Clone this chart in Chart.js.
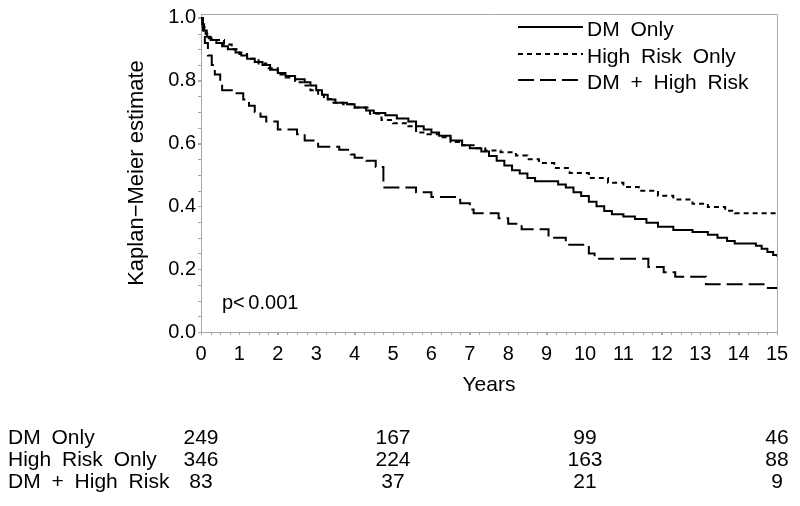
<!DOCTYPE html>
<html>
<head>
<meta charset="utf-8">
<script src="https://cdn.jsdelivr.net/npm/chart.js@4.4.1/dist/chart.umd.min.js"></script>
<style>
  html, body { margin: 0; padding: 0; background: #fff; }
  #wrap { width: 800px; height: 506px; }
</style>
</head>
<body>
<div id="wrap"><canvas id="km" width="800" height="506"></canvas></div>
<script>
// step times (years) and survival after each drop
const seriesNames = ["DM Only", "High Risk Only", "DM + High Risk"];

const dmOnlyTimes = [0, 0.03, 0.08, 0.15, 0.25, 0.4, 0.55, 0.7, 0.9, 1.05, 1.2, 1.4, 1.6, 1.8, 2.0, 2.2, 2.45, 2.7, 2.85, 3.0, 3.15, 3.3, 3.5, 3.8, 4.0, 4.3, 4.5, 4.8, 5.1, 5.4, 5.6, 5.8, 6.0, 6.2, 6.5, 6.8, 7.0, 7.3, 7.5, 7.7, 7.9, 8.1, 8.3, 8.5, 8.7, 9.3, 9.5, 9.7, 9.9, 10.1, 10.3, 10.5, 10.7, 11.0, 11.3, 11.6, 11.9, 12.3, 12.8, 13.2, 13.45, 13.7, 13.9, 14.45, 14.6, 14.75, 14.9, 15];
const dmOnlySurv = [1.0, 0.98, 0.96, 0.94, 0.93, 0.92, 0.91, 0.90, 0.89, 0.88, 0.87, 0.86, 0.85, 0.835, 0.825, 0.815, 0.805, 0.795, 0.785, 0.77, 0.755, 0.74, 0.73, 0.725, 0.715, 0.705, 0.697, 0.69, 0.68, 0.67, 0.655, 0.645, 0.635, 0.625, 0.61, 0.595, 0.585, 0.575, 0.56, 0.545, 0.53, 0.515, 0.505, 0.49, 0.48, 0.47, 0.46, 0.445, 0.433, 0.415, 0.40, 0.385, 0.375, 0.368, 0.36, 0.348, 0.335, 0.325, 0.318, 0.31, 0.30, 0.29, 0.282, 0.275, 0.265, 0.255, 0.245, 0.24];

const highRiskTimes = [0, 0.05, 0.12, 0.2, 0.35, 0.6, 0.8, 1.0, 1.2, 1.5, 1.7, 2.0, 2.2, 2.45, 2.65, 2.85, 3.05, 3.2, 3.45, 3.7, 4.0, 4.4, 4.7, 5.0, 5.4, 5.6, 5.9, 6.2, 6.5, 6.8, 7.1, 7.4, 7.8, 8.2, 8.5, 8.8, 9.2, 9.6, 10.1, 10.6, 11.0, 11.4, 11.9, 12.3, 12.8, 13.2, 13.65, 13.9, 15];
const highRiskSurv = [1.0, 0.97, 0.95, 0.935, 0.93, 0.915, 0.90, 0.885, 0.87, 0.855, 0.84, 0.82, 0.81, 0.795, 0.785, 0.77, 0.755, 0.742, 0.73, 0.725, 0.715, 0.695, 0.675, 0.665, 0.655, 0.635, 0.63, 0.62, 0.605, 0.595, 0.585, 0.578, 0.572, 0.562, 0.55, 0.538, 0.522, 0.506, 0.49, 0.475, 0.462, 0.45, 0.434, 0.422, 0.408, 0.398, 0.386, 0.378, 0.376];

const dmHighTimes = [0, 0.05, 0.1, 0.18, 0.28, 0.36, 0.5, 0.55, 0.9, 1.1, 1.25, 1.4, 1.55, 1.7, 2.0, 2.5, 2.7, 3.05, 3.6, 3.9, 4.0, 4.3, 4.55, 4.75, 5.6, 6.0, 6.75, 7.0, 7.1, 7.75, 8.0, 8.35, 9.05, 9.5, 10.1, 10.25, 11.65, 12.05, 12.35, 13.15, 14.65, 15];
const dmHighSurv = [1.0, 0.96, 0.92, 0.88, 0.85, 0.82, 0.79, 0.77, 0.76, 0.74, 0.72, 0.70, 0.685, 0.67, 0.645, 0.63, 0.61, 0.59, 0.58, 0.565, 0.555, 0.545, 0.525, 0.46, 0.445, 0.43, 0.41, 0.39, 0.378, 0.362, 0.345, 0.327, 0.30, 0.278, 0.25, 0.233, 0.207, 0.19, 0.176, 0.152, 0.14, 0.14];

const xTicks = [0, 1, 2, 3, 4, 5, 6, 7, 8, 9, 10, 11, 12, 13, 14, 15];
const yTicks = [0, 0.2, 0.4, 0.6, 0.8, 1.0];

// numbers at risk
const riskTimes = [0, 5, 10, 15];
const riskDmOnly = [249, 167, 99, 46];
const riskHighRisk = [346, 224, 163, 88];
const riskDmHigh = [83, 37, 21, 9];

const pValueText = "p< 0.001";

const FONT = "'Liberation Sans', Arial, sans-serif";
const AXIS_GREY = "#a8a8a8";

Chart.defaults.font.family = FONT;
Chart.defaults.color = "#000";

function toPoints(times, surv) {
    return times.map((t, i) => ({ x: t, y: surv[i] }));
}

const kmExtras = {
    id: "kmExtras",
    afterDraw(chart) {
        const ctx = chart.ctx;
        const area = chart.chartArea;
        const xs = chart.scales.x;
        const ys = chart.scales.y;
        const hasWordSpacing = "wordSpacing" in ctx;

        ctx.save();

        // frame on top and right
        ctx.strokeStyle = AXIS_GREY;
        ctx.lineWidth = 1;
        ctx.beginPath();
        ctx.moveTo(area.left, area.top + 0.5);
        ctx.lineTo(area.right + 0.5, area.top + 0.5);
        ctx.lineTo(area.right + 0.5, area.bottom);
        ctx.stroke();

        // minor ticks
        ctx.beginPath();
        for (let t = 0; t <= 15.001; t += 0.25) {
            const px = Math.round(xs.getPixelForValue(t)) + 0.5;
            ctx.moveTo(px, area.bottom);
            ctx.lineTo(px, area.bottom + 3);
        }
        for (let s = 0; s <= 1.001; s += 0.05) {
            const py = Math.round(ys.getPixelForValue(s)) + 0.5;
            ctx.moveTo(area.left, py);
            ctx.lineTo(area.left - 3, py);
        }
        ctx.stroke();

        // legend
        const legendY = [30, 57, 83];
        ctx.font = "21px " + FONT;
        ctx.textBaseline = "middle";
        ctx.textAlign = "left";
        if (hasWordSpacing) ctx.wordSpacing = "5px";
        chart.data.datasets.forEach((ds, i) => {
            ctx.strokeStyle = "#000";
            ctx.lineWidth = 2;
            ctx.setLineDash(ds.borderDash || []);
            ctx.beginPath();
            ctx.moveTo(518, legendY[i] - 3);
            ctx.lineTo(583, legendY[i] - 3);
            ctx.stroke();
            ctx.fillStyle = "#000";
            ctx.fillText(ds.label, 587, legendY[i]);
        });
        ctx.setLineDash([]);

        // p-value
        if (hasWordSpacing) ctx.wordSpacing = "-2px";
        ctx.font = "20px " + FONT;
        ctx.fillText(pValueText, 222, 303);
        if (hasWordSpacing) ctx.wordSpacing = "5px";

        // numbers at risk table
        const rows = [riskDmOnly, riskHighRisk, riskDmHigh];
        const rowY = [438, 460, 482];
        ctx.font = "21px " + FONT;
        rows.forEach((vals, r) => {
            ctx.textAlign = "left";
            ctx.fillText(seriesNames[r], 8, rowY[r]);
            ctx.textAlign = "center";
            vals.forEach((v, k) => {
                ctx.fillText(String(v), xs.getPixelForValue(riskTimes[k]), rowY[r]);
            });
        });

        ctx.restore();
    }
};

new Chart(document.getElementById("km"), {
    type: "line",
    data: {
        datasets: [
            {
                label: seriesNames[0],
                data: toPoints(dmOnlyTimes, dmOnlySurv),
                borderColor: "#000",
                borderWidth: 2,
                stepped: true,
                pointRadius: 0,
                fill: false
            },
            {
                label: seriesNames[1],
                data: toPoints(highRiskTimes, highRiskSurv),
                borderColor: "#000",
                borderWidth: 2,
                borderDash: [5, 4],
                stepped: true,
                pointRadius: 0,
                fill: false
            },
            {
                label: seriesNames[2],
                data: toPoints(dmHighTimes, dmHighSurv),
                borderColor: "#000",
                borderWidth: 2,
                borderDash: [16, 6],
                stepped: true,
                pointRadius: 0,
                fill: false
            }
        ]
    },
    options: {
        responsive: false,
        animation: false,
        events: [],
        layout: { padding: { left: 120, right: 23, top: 12, bottom: 104 } },
        plugins: {
            legend: { display: false },
            tooltip: { enabled: false }
        },
        scales: {
            x: {
                type: "linear",
                min: 0,
                max: 15,
                afterBuildTicks: (scale) => { scale.ticks = xTicks.map(v => ({ value: v })); },
                afterFit: (scale) => { scale.height = 70; },
                ticks: { font: { size: 20 }, padding: 7, maxRotation: 0, autoSkip: false },
                grid: { drawOnChartArea: false, tickLength: 3, color: AXIS_GREY },
                border: { color: AXIS_GREY },
                title: { display: true, text: "Years", font: { size: 21 }, padding: { top: 4, bottom: 4 } }
            },
            y: {
                min: 0,
                max: 1.0125,
                afterBuildTicks: (scale) => { scale.ticks = yTicks.map(v => ({ value: v })); },
                afterFit: (scale) => { scale.width = 81; },
                ticks: { font: { size: 20 }, padding: 2, callback: (v) => Number(v).toFixed(1) },
                grid: { drawOnChartArea: false, tickLength: 3, color: AXIS_GREY },
                border: { color: AXIS_GREY },
                title: { display: true, text: "Kaplan−Meier estimate", font: { size: 22 }, padding: { top: 4, bottom: 4 } }
            }
        }
    },
    plugins: [kmExtras]
});
</script>
</body>
</html>
